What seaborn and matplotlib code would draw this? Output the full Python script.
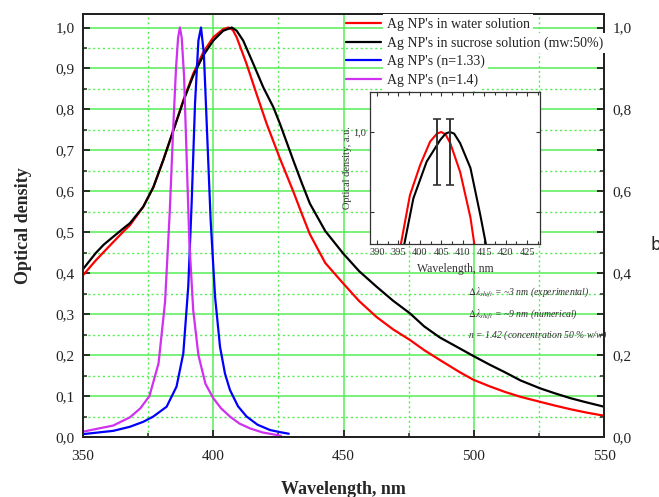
import numpy as np
import pandas as pd
import matplotlib
matplotlib.use("Agg")
import matplotlib.pyplot as plt
import seaborn as sns
from matplotlib.ticker import MultipleLocator, FuncFormatter

# ---------------- data ----------------
wl_water = [350, 355, 361.6, 366, 368, 373.1, 377, 380.8, 384.7, 388.5, 392.3, 396.2, 400, 403.8,
            405.8, 407.5, 409, 412.8, 416.6, 420.5, 425.6, 430.7, 434, 437.1, 443, 449.9, 456,
            462.7, 469, 475.5, 481, 487, 494.7, 499.8, 506, 512, 518, 525.4, 531, 537, 543, 550]
od_water = [0.395, 0.432, 0.476, 0.505, 0.517, 0.562, 0.61, 0.676, 0.749, 0.822, 0.887, 0.94,
            0.976, 0.996, 1.0, 0.994, 0.976, 0.911, 0.838, 0.765, 0.68, 0.60, 0.545, 0.495, 0.425,
            0.375, 0.332, 0.293, 0.263, 0.237, 0.212, 0.188, 0.158, 0.14, 0.124, 0.11, 0.098,
            0.086, 0.077, 0.068, 0.06, 0.052]

wl_sucrose = [350, 355, 358, 361.6, 366, 368, 373.1, 377, 380.8, 384.7, 388.5, 392.3, 396.2, 400,
              403.8, 407.1, 409, 411.5, 415.4, 419.2, 423.1, 425.6, 430.7, 434, 437.1, 443, 449.9,
              456, 462.7, 469, 475.5, 481, 487, 494.7, 499.8, 506, 512, 518, 525.4, 531, 537,
              543, 550]
od_sucrose = [0.41, 0.45, 0.47, 0.489, 0.512, 0.522, 0.562, 0.61, 0.676, 0.749, 0.82, 0.882,
              0.932, 0.968, 0.992, 1.0, 0.992, 0.968, 0.911, 0.854, 0.805, 0.765, 0.676, 0.62,
              0.57, 0.503, 0.448, 0.405, 0.367, 0.333, 0.302, 0.27, 0.243, 0.216, 0.198, 0.177,
              0.158, 0.138, 0.119, 0.107, 0.095, 0.085, 0.074]

wl_n133 = [350, 361.6, 368, 373.1, 377, 382.1, 385.9, 388.5, 390.4, 391.7, 393, 394.3, 395.3,
           396.4, 397.7, 399, 400.7, 402.6, 404.5, 406.4, 409.5, 412.8, 417, 421.8, 425.5, 429]
od_n133 = [0.007, 0.015, 0.025, 0.037, 0.05, 0.074, 0.123, 0.204, 0.367, 0.57, 0.814, 0.968,
           1.0, 0.936, 0.733, 0.529, 0.342, 0.22, 0.155, 0.115, 0.075, 0.05, 0.03, 0.017, 0.012,
           0.008]

wl_n14 = [350, 361.6, 368, 372, 375.5, 379, 381.5, 383.3, 384.6, 385.7, 386.5, 387.2, 387.9,
          388.8, 389.8, 390.8, 392.3, 394.3, 397, 400, 403, 406.4, 410, 414.1, 419, 424.3, 426]
od_n14 = [0.013, 0.028, 0.048, 0.07, 0.1, 0.18, 0.33, 0.55, 0.75, 0.9, 0.975, 1.0, 0.975, 0.88,
          0.68, 0.48, 0.31, 0.2, 0.13, 0.095, 0.07, 0.05, 0.033, 0.021, 0.011, 0.005, 0.003]

series_labels = ["Ag NP's in water solution",
                 "Ag NP's in sucrose solution (mw:50%)",
                 "Ag NP's (n=1.33)",
                 "Ag NP's (n=1.4)"]
series_colors = ["#ff0000", "#000000", "#0000ff", "#d030f0"]

# inset data
inset_wl_water = [395.0, 395.6, 397.7, 400.1, 402.4, 404, 405, 406, 407.1, 409.4, 411.8, 412.7, 413.2]
inset_od_water = [0.85, 0.86, 0.921, 0.959, 0.988, 0.998, 1.0, 0.997, 0.986, 0.95, 0.893, 0.86, 0.85]
inset_wl_sucrose = [395.9, 396.4, 398.5, 401.6, 404.75, 406, 407, 408, 409.4, 411.8, 414.1, 415.4, 415.9]
inset_od_sucrose = [0.85, 0.86, 0.917, 0.963, 0.99, 0.998, 1.0, 0.998, 0.986, 0.955, 0.896, 0.86, 0.85]
err_x = [404.1, 407.1]
err_y = [0.975, 0.975]
err_e = [0.041, 0.041]

annotations = [r"$\Delta\lambda_{shift}$ = ~3 nm (experimental)",
               r"$\Delta\lambda_{shift}$ = ~9 nm (numerical)",
               r"$n$ = 1.42 (concentration 50 % w/w)"]

# ---------------- style ----------------
sns.set_style("ticks")
plt.rcParams["font.family"] = ["Liberation Serif", "DejaVu Serif"]
plt.rcParams["mathtext.fontset"] = "stix"

GREEN = "#55ee55"
comma = FuncFormatter(lambda v, p: f"{v:.1f}".replace(".", ","))

fig = plt.figure(figsize=(6.59, 4.97), dpi=100)
ax = fig.add_axes([83 / 659, 1 - 437 / 497, 521 / 659, 423 / 497])

frames = []
for wl, od, lab in [(wl_water, od_water, series_labels[0]),
                    (wl_sucrose, od_sucrose, series_labels[1]),
                    (wl_n133, od_n133, series_labels[2]),
                    (wl_n14, od_n14, series_labels[3])]:
    frames.append(pd.DataFrame({"wl": wl, "od": od, "series": lab}))
df = pd.concat(frames, ignore_index=True)

sns.lineplot(data=df, x="wl", y="od", hue="series", hue_order=series_labels,
             palette=series_colors, linewidth=1.6, ax=ax, sort=False, zorder=3)

ax.set_xlim(350, 550)
ax.set_ylim(0, 1.033)
ax.xaxis.set_major_locator(MultipleLocator(50))
ax.xaxis.set_minor_locator(MultipleLocator(25))
ax.yaxis.set_major_locator(MultipleLocator(0.1))
ax.yaxis.set_minor_locator(MultipleLocator(0.05))
ax.yaxis.set_major_formatter(comma)
ax.grid(which="major", color=GREEN, lw=1.1, ls="-", zorder=0)
ax.grid(which="minor", color=GREEN, lw=1.0, ls=(0, (1.5, 2)), zorder=0)
ax.set_axisbelow(True)
ax.tick_params(axis="both", which="major", direction="in", length=5, width=1.3,
               labelsize=11, colors="#222222", pad=6)
ax.tick_params(axis="x", which="major", pad=9)
ax.tick_params(axis="both", which="minor", direction="in", length=3, width=1.1)
ax.tick_params(axis="x", which="both", top=False)
for s in ax.spines.values():
    s.set_linewidth(1.4)
    s.set_color("#222222")
ax.set_xlabel("Wavelength, nm", fontsize=13, fontweight="bold", labelpad=13)
ax.set_ylabel("Optical density", fontsize=13, fontweight="bold", labelpad=17)

# right axis
ax2 = ax.twinx()
ax2.set_ylim(ax.get_ylim())
ax2.yaxis.set_major_locator(MultipleLocator(0.1))
ax2.yaxis.set_minor_locator(MultipleLocator(0.05))
ax2.yaxis.set_major_formatter(FuncFormatter(
    lambda v, p: f"{v:.1f}".replace(".", ",") if round(v * 10) % 2 == 0 else ""))
ax2.tick_params(axis="y", which="major", direction="in", length=5, width=1.3,
                labelsize=11, colors="#222222", pad=6)
ax2.tick_params(axis="y", which="minor", direction="in", length=3, width=1.1)
ax2.grid(False)
for s in ax2.spines.values():
    s.set_linewidth(1.4)
    s.set_color("#222222")

# legend
handles, labels = ax.get_legend_handles_labels()
if ax.get_legend():
    ax.get_legend().remove()
leg = ax2.legend(handles, labels, loc="upper left", bbox_to_anchor=(0.487, 1.014),
                 frameon=False, fontsize=10, handlelength=2.5, handletextpad=0.4,
                 labelspacing=0.38, borderpad=0.2)
for t in leg.get_texts():
    t.set_bbox(dict(facecolor="white", edgecolor="none", pad=2.5))
    t.set_color("#222222")

# inset
axi = fig.add_axes([370 / 659, 1 - 244 / 497, 170 / 659, 152 / 497])
axi.set_facecolor("white")
idf = pd.concat([pd.DataFrame({"wl": inset_wl_water, "od": inset_od_water, "s": "w"}),
                 pd.DataFrame({"wl": inset_wl_sucrose, "od": inset_od_sucrose, "s": "s"})],
                ignore_index=True)
sns.lineplot(data=idf, x="wl", y="od", hue="s", hue_order=["w", "s"],
             palette=["#ff0000", "#000000"], linewidth=1.5, ax=axi, sort=False, legend=False)
axi.errorbar(err_x, err_y, yerr=err_e, fmt="none", ecolor="#333333", elinewidth=1.4,
             capsize=3, capthick=1.2)
axi.set_xlim(388.4, 428)
axi.set_ylim(0.86, 1.05)
axi.xaxis.set_major_locator(MultipleLocator(5))
axi.xaxis.set_minor_locator(MultipleLocator(2.5))
axi.set_yticks([0.9, 1.0])
axi.set_yticklabels(["", "1,0"])
axi.tick_params(axis="both", which="both", direction="in", top=True, right=True,
                labelsize=7.5, colors="#333333", length=3, width=0.8, pad=3)
axi.tick_params(axis="both", which="minor", length=2)
for s in axi.spines.values():
    s.set_linewidth(0.9)
    s.set_color("#333333")
axi.set_xlabel("Wavelength, nm", fontsize=8.5, color="#333333", labelpad=4)
axi.set_ylabel("Optical density, a.u.", fontsize=7.5, color="#333333", labelpad=1)

# annotations
for i, txt in enumerate(annotations):
    fig.text(468 / 659, 1 - [292, 314, 335][i] / 497, txt, fontsize=7, style="italic",
             color="#333333", va="center", ha="left")

# cut-off glyph at the right edge
fig.text(651 / 659, 1 - 250 / 497, "b", fontsize=12, family="DejaVu Sans",
         color="#222222", ha="left", va="baseline")

fig.savefig("out.png", dpi=100, facecolor="white")
